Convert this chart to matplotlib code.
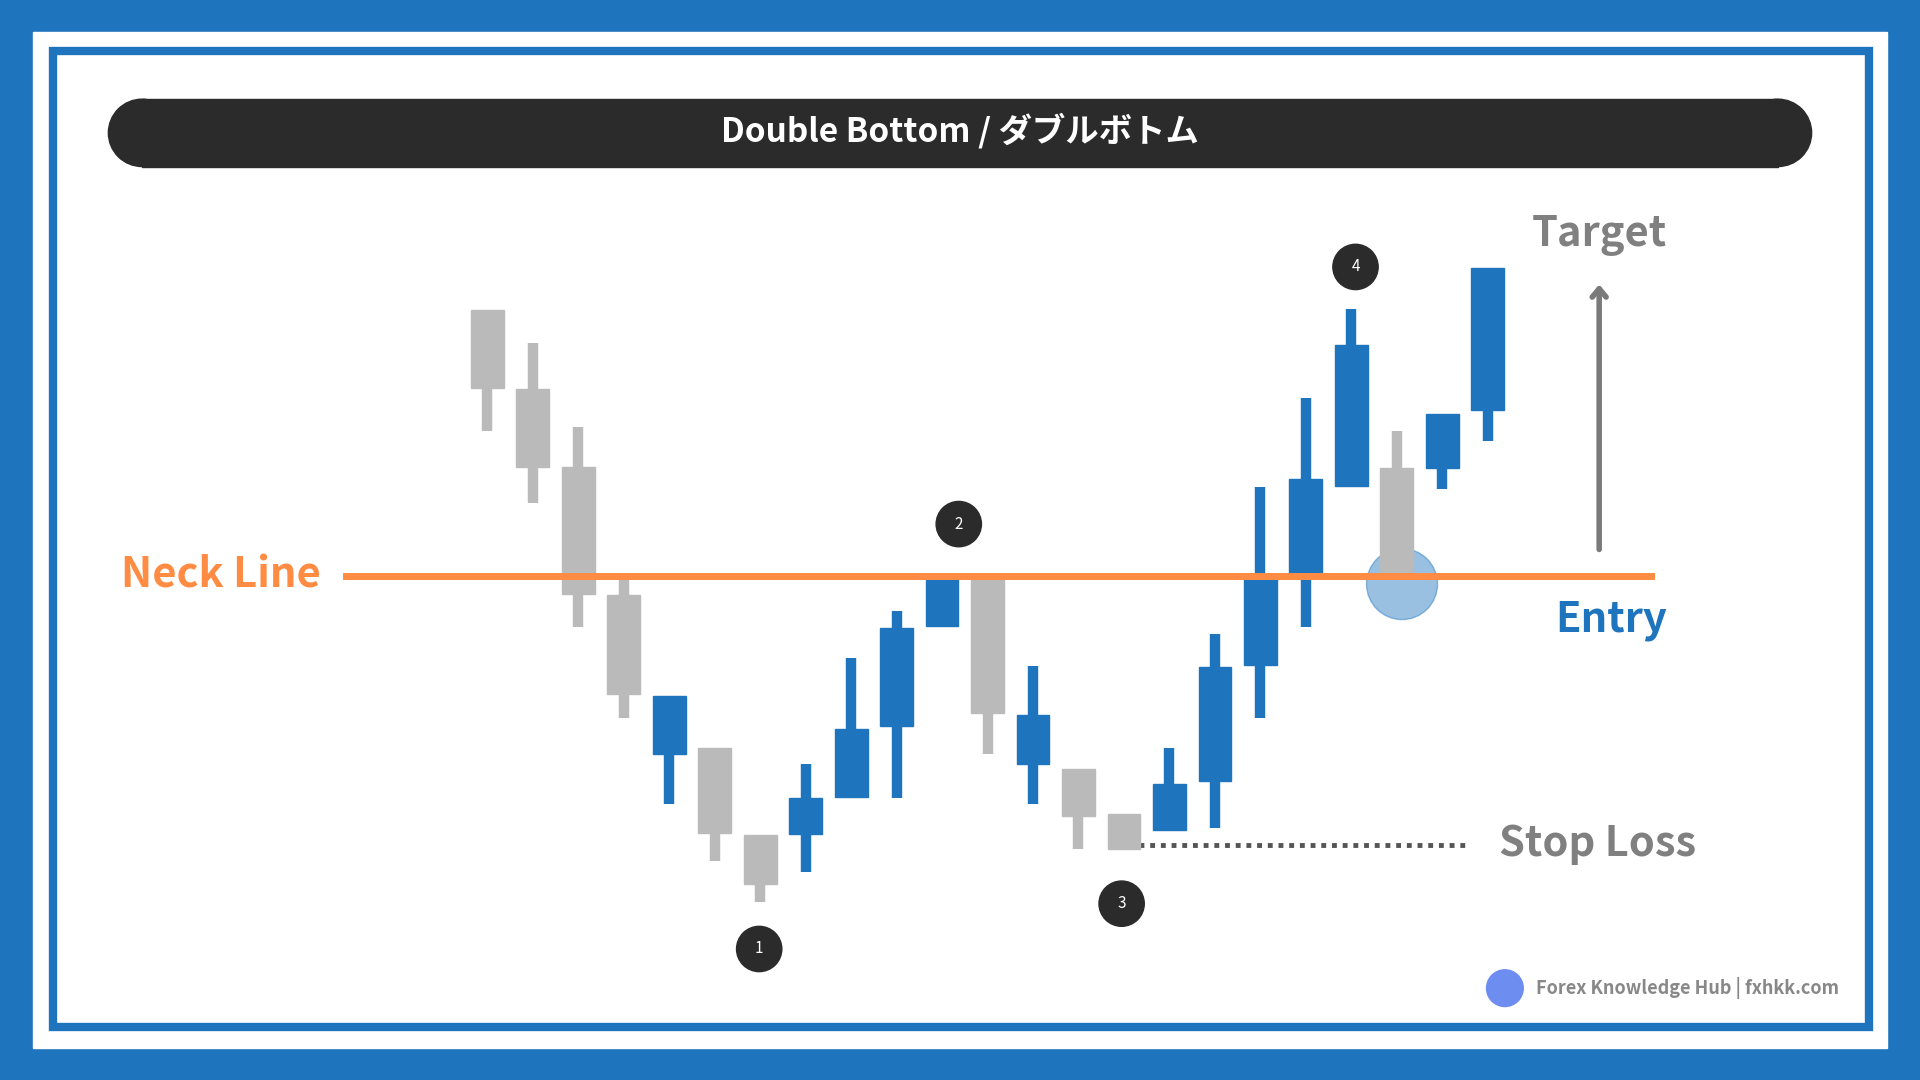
import matplotlib.pyplot as plt
from matplotlib.patches import Rectangle, Circle

plt.rcParams['font.family'] = ['Noto Sans CJK JP', 'DejaVu Sans']

W, H = 1568, 882

# candle data (price units), up = blue, down = gray
opens  = [629, 564, 501, 396, 266, 271, 200, 201, 231, 289, 371, 412, 258, 254, 217, 204, 244, 339, 414, 485, 500, 500, 547]
closes = [565, 501, 397, 315, 314, 202, 160, 230, 287, 369, 412, 300, 298, 216, 189, 242, 337, 412, 491, 600, 412, 544, 663]
highs  = [629, 602, 533, 410, 314, 271, 200, 258, 345, 383, 412, 412, 338, 254, 217, 271, 364, 484, 557, 630, 530, 544, 663]
lows   = [530, 471, 370, 296, 225, 179, 145, 170, 231, 230, 371, 266, 225, 189, 189, 204, 206, 296, 370, 485, 412, 483, 522]

NECK = 412
STOP = 192
BLUE = '#1f74be'
GRAY = '#bababa'

fig = plt.figure(figsize=(19.2, 10.8), dpi=100)
bg = fig.add_axes([0, 0, 1, 1])
bg.set_xlim(0, W)
bg.set_ylim(H, 0)
bg.axis('off')

# frame
bg.add_patch(Rectangle((0, 0), W, H, color='#1f74be'))
bg.add_patch(Rectangle((27, 26), 1514, 830, color='white'))
bg.add_patch(Rectangle((43, 42), 1483, 797, fill=False, ec='#1f74be', lw=6))

# title bar
bg.add_patch(Rectangle((116, 81), 1336, 55, color='#2b2b2b'))
bg.add_patch(Circle((116, 108.5), 27.5, color='#2b2b2b'))
bg.add_patch(Circle((1452, 108.5), 27.5, color='#2b2b2b'))
bg.text(784, 107, 'Double Bottom / ダブルボトム', color='white', fontsize=24,
        fontweight='bold', ha='center', va='center')

# candles
step = (1215 - 398) / 22
ax = fig.add_axes([(398 - step / 2) / W, 0, (23 * step) / W, 1])
ax.set_xlim(-0.5, 22.5)
ax.set_ylim(0, H)
ax.axis('off')
for i, (o, c, h, l) in enumerate(zip(opens, closes, highs, lows)):
    col = BLUE if c > o else GRAY
    ax.vlines(i, l, h, color=col, lw=7.5, zorder=2)
    ax.add_patch(Rectangle((i - 0.36, min(o, c)), 0.72, abs(c - o), color=col, zorder=3))

# neck line, stop loss
ax.plot([-3.1, 25.6], [NECK, NECK], color='#ff8c42', lw=5, zorder=4, clip_on=False)
bg.plot([930, 1197], [H - STOP, H - STOP], color='#555555', lw=3.5, ls=(0, (1, 1.2)))

bg.text(180, 470, 'Neck Line', color='#ff8c42', fontsize=30, fontweight='bold',
        ha='center', va='center')
bg.text(1316, 506, 'Entry', color=BLUE, fontsize=30, fontweight='bold', ha='center', va='center')
bg.text(1306, 192, 'Target', color='#808080', fontsize=30, fontweight='bold', ha='center', va='center')
bg.text(1305, 689, 'Stop Loss', color='#808080', fontsize=30, fontweight='bold', ha='center', va='center')
bg.annotate('', xy=(1306, 230), xytext=(1306, 451),
            arrowprops=dict(arrowstyle='->,head_width=0.5,head_length=0.6', color='#7a7a7a', lw=4))

bg.add_patch(Circle((1145, 477), 29, color='#1f74be', alpha=0.45, zorder=5))

for n, (x, y) in enumerate([(620, 775), (783, 428), (916, 738), (1107, 218)], start=1):
    bg.add_patch(Circle((x, y), 18.5, color='#2b2b2b', zorder=6))
    bg.text(x, y, str(n), color='white', fontsize=11, ha='center', va='center', zorder=7)

# footer
bg.add_patch(Circle((1229, 807), 15, color='#6e8df0'))
bg.text(1254, 807, 'Forex Knowledge Hub | fxhkk.com', color='#888888', fontsize=13,
        fontweight='bold', ha='left', va='center')

fig.savefig('out.png', dpi=100)
